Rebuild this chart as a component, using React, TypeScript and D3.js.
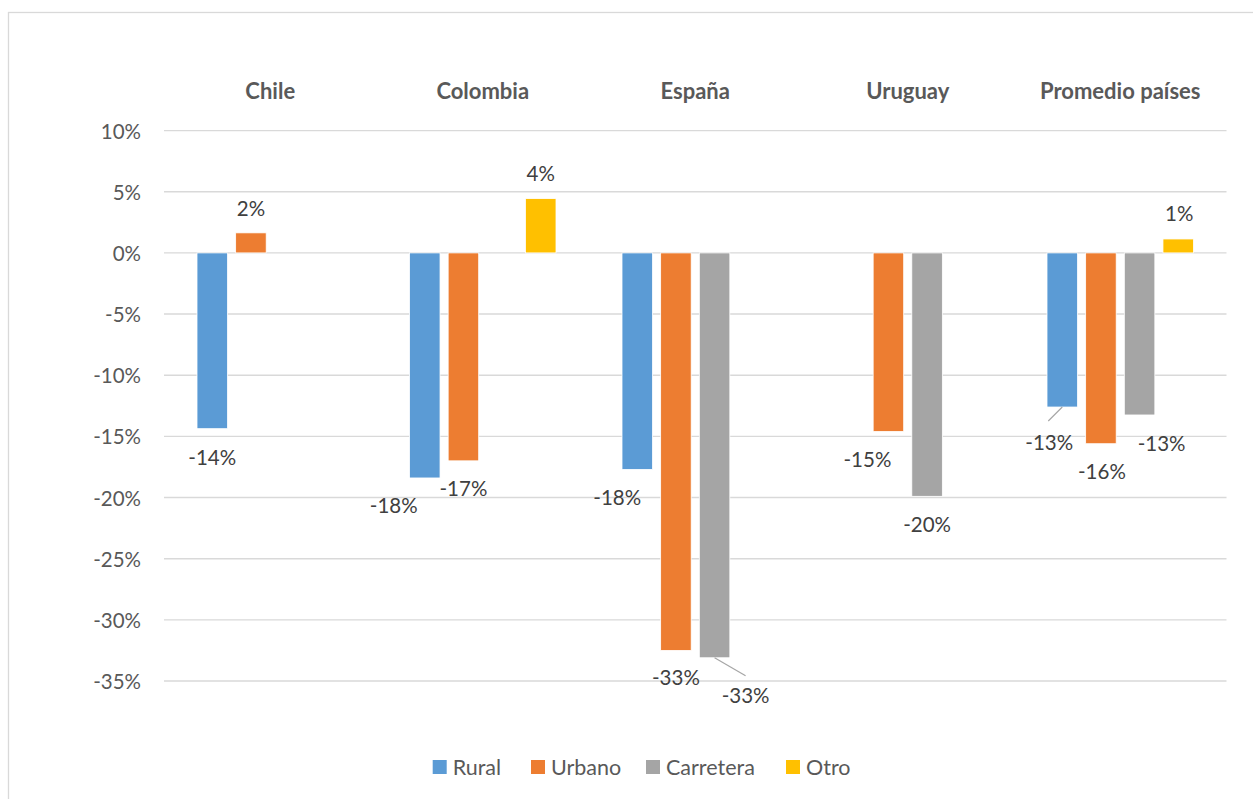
import React from "react";
import * as d3 from "d3";

const categories = ["Chile", "Colombia", "España", "Uruguay", "Promedio países"];
const seriesNames = ["Rural", "Urbano", "Carretera", "Otro"];
const rural = [-14.37, -18.4, -17.7, null, -12.6];
const urbano = [1.64, -17.0, -32.5, -14.6, -15.6];
const carretera = [null, null, -33.1, -19.9, -13.25];
const otro = [null, 4.44, null, null, 1.14];
const labelText = [
  ["-14%", "-18%", "-18%", "", "-13%"],
  ["2%", "-17%", "-33%", "-15%", "-16%"],
  ["", "", "-33%", "-20%", "-13%"],
  ["", "4%", "", "", "1%"],
];
const yTicks = [10, 5, 0, -5, -10, -15, -20, -25, -30, -35];

// label offsets (layout, not data): [series][category] -> [dx, dy]
const labelOffsets: [number, number][][] = [
  [[0, 28], [-31, 27], [-20, 28], [0, 0], [-13, 35]],
  [[0, -25], [0, 27], [0, 27], [-21, 28], [1, 27]],
  [[0, 0], [0, 0], [31, 37], [0, 28], [22, 28]],
  [[0, 0], [0, -26], [0, 0], [0, 0], [1, -26]],
];
// leader lines: [series, category, x2 offset, y2 offset]
const leaders: [number, number, number, number][] = [
  [2, 2, 31, 18],
  [0, 4, -14, 14],
];

const colors = ["#5b9bd5", "#ed7d31", "#a5a5a5", "#ffc000"];
const FONT = "Lato, 'Open Sans', sans-serif";

export default function App() {
  const W = 1253, H = 799;
  const left = 164, right = 1226.5;
  const y = d3.scaleLinear().domain([-35, 10]).range([681, 130.6]);
  const x0 = d3.scaleBand<string>().domain(categories).range([left, right]).padding(0);
  const bw = x0.bandwidth();
  const inner = 33;
  const x1 = d3.scaleBand<string>().domain(seriesNames).range([inner, bw - inner]).paddingInner(0.21).paddingOuter(0);
  const all = [rural, urbano, carretera, otro];

  const bars: any[] = [];
  all.forEach((vals, si) => {
    vals.forEach((v, ci) => {
      if (v === null || v === undefined) return;
      const xb = (x0(categories[ci]) as number) + (x1(seriesNames[si]) as number);
      const y0 = y(0), yv = y(v);
      bars.push({ si, ci, v, x: xb, w: x1.bandwidth(), yTop: Math.min(y0, yv), h: Math.abs(yv - y0), cx: xb + x1.bandwidth() / 2, yEnd: yv });
    });
  });

  const legendX = [432.7, 531, 646, 786];

  return (
    <svg width={W} height={H} style={{ position: "absolute", left: 0, top: 0 }} fontFamily={FONT}>
      <rect x={0} y={0} width={W} height={H} fill="#fff" />
      <rect x={8.5} y={12.5} width={W + 20} height={H + 20} fill="#fff" stroke="#d9d9d9" strokeWidth={1.3} />
      {yTicks.map((t) => (
        <g key={t}>
          <line x1={left} x2={right} y1={y(t)} y2={y(t)} stroke="#d9d9d9" strokeWidth={1.4} />
          <text x={141} y={y(t)} textAnchor="end" dominantBaseline="central" fontSize={20.5} fill="#595959">
            {t}%
          </text>
        </g>
      ))}
      {categories.map((c) => (
        <text key={c} x={(x0(c) as number) + bw / 2} y={90} textAnchor="middle" dominantBaseline="central" fontSize={22} fontWeight="bold" fill="#595959">
          {c}
        </text>
      ))}
      {bars.map((b) => (
        <rect key={`${b.si}-${b.ci}`} x={b.x} y={b.yTop} width={b.w} height={b.h} fill={colors[b.si]} stroke="#fff" strokeWidth={0.8} />
      ))}
      {leaders.map(([si, ci, dx, dy]) => {
        const b = bars.find((bb) => bb.si === si && bb.ci === ci);
        return <line key={`l${si}-${ci}`} x1={b.cx} y1={b.yEnd} x2={b.cx + dx} y2={b.yEnd + dy} stroke="#a6a6a6" strokeWidth={1.2} />;
      })}
      {bars.map((b) => {
        const [dx, dy] = labelOffsets[b.si][b.ci];
        return (
          <text key={`t${b.si}-${b.ci}`} x={b.cx + dx} y={b.yEnd + dy} textAnchor="middle" dominantBaseline="central" fontSize={20.5} fill="#404040">
            {labelText[b.si][b.ci]}
          </text>
        );
      })}
      {seriesNames.map((s, i) => (
        <g key={s}>
          <rect x={legendX[i]} y={760} width={14} height={14} fill={colors[i]} />
          <text x={legendX[i] + 20} y={767} dominantBaseline="central" fontSize={21.5} fill="#595959">
            {s}
          </text>
        </g>
      ))}
    </svg>
  );
}
